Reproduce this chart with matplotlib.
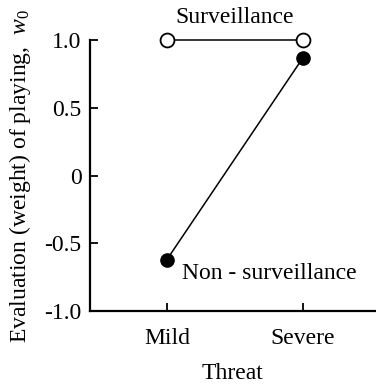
import matplotlib
matplotlib.use("Agg")
import matplotlib.pyplot as plt

plt.rcParams['font.family'] = ['Liberation Serif', 'DejaVu Serif']
plt.rcParams['mathtext.fontset'] = 'custom'
plt.rcParams['mathtext.it'] = 'Liberation Serif:italic'
plt.rcParams['mathtext.rm'] = 'Liberation Serif'

threat = ["Mild", "Severe"]
xpos = [1, 2]
surveillance = [1.0, 1.0]
non_surveillance = [-0.62, 0.87]
yticks = [1.0, 0.5, 0.0, -0.5, -1.0]
ylabels = ["1.0", "0.5", "0", "-0.5", "-1.0"]

fs = 17

fig = plt.figure(figsize=(3.76, 3.86), dpi=100)
ax = fig.add_axes([0.239, 0.194, 0.761, 0.702])

ax.plot(xpos, surveillance, color="black", lw=1.1, marker="o", ms=10,
        mfc="white", mec="black", mew=1.3, clip_on=False, zorder=3)
ax.plot(xpos, non_surveillance, color="black", lw=1.1, marker="o", ms=9.5,
        mfc="black", mec="black", clip_on=False, zorder=3)

ax.text(1.5, 1.165, "Surveillance", ha="center", va="center", fontsize=fs)
ax.text(1.11, -0.72, "Non - surveillance", ha="left", va="center", fontsize=fs)

ax.set_xlim(0.434, 2.537)
ax.set_ylim(-1.0, 1.0)
ax.set_xticks(xpos)
ax.set_xticklabels(threat)
ax.set_yticks(yticks)
ax.set_yticklabels(ylabels)
ax.tick_params(direction="in", length=6, width=1.3, labelsize=fs)
ax.tick_params(axis="x", pad=12)
ax.tick_params(axis="y", pad=6)

for s in ["top", "right"]:
    ax.spines[s].set_visible(False)
for s in ["left", "bottom"]:
    ax.spines[s].set_linewidth(1.6)

ax.set_xlabel("Threat", fontsize=fs, labelpad=10)
ax.set_ylabel("Evaluation (weight) of playing,  $w_0$", fontsize=fs, labelpad=8)

fig.savefig("out.png", dpi=100)
